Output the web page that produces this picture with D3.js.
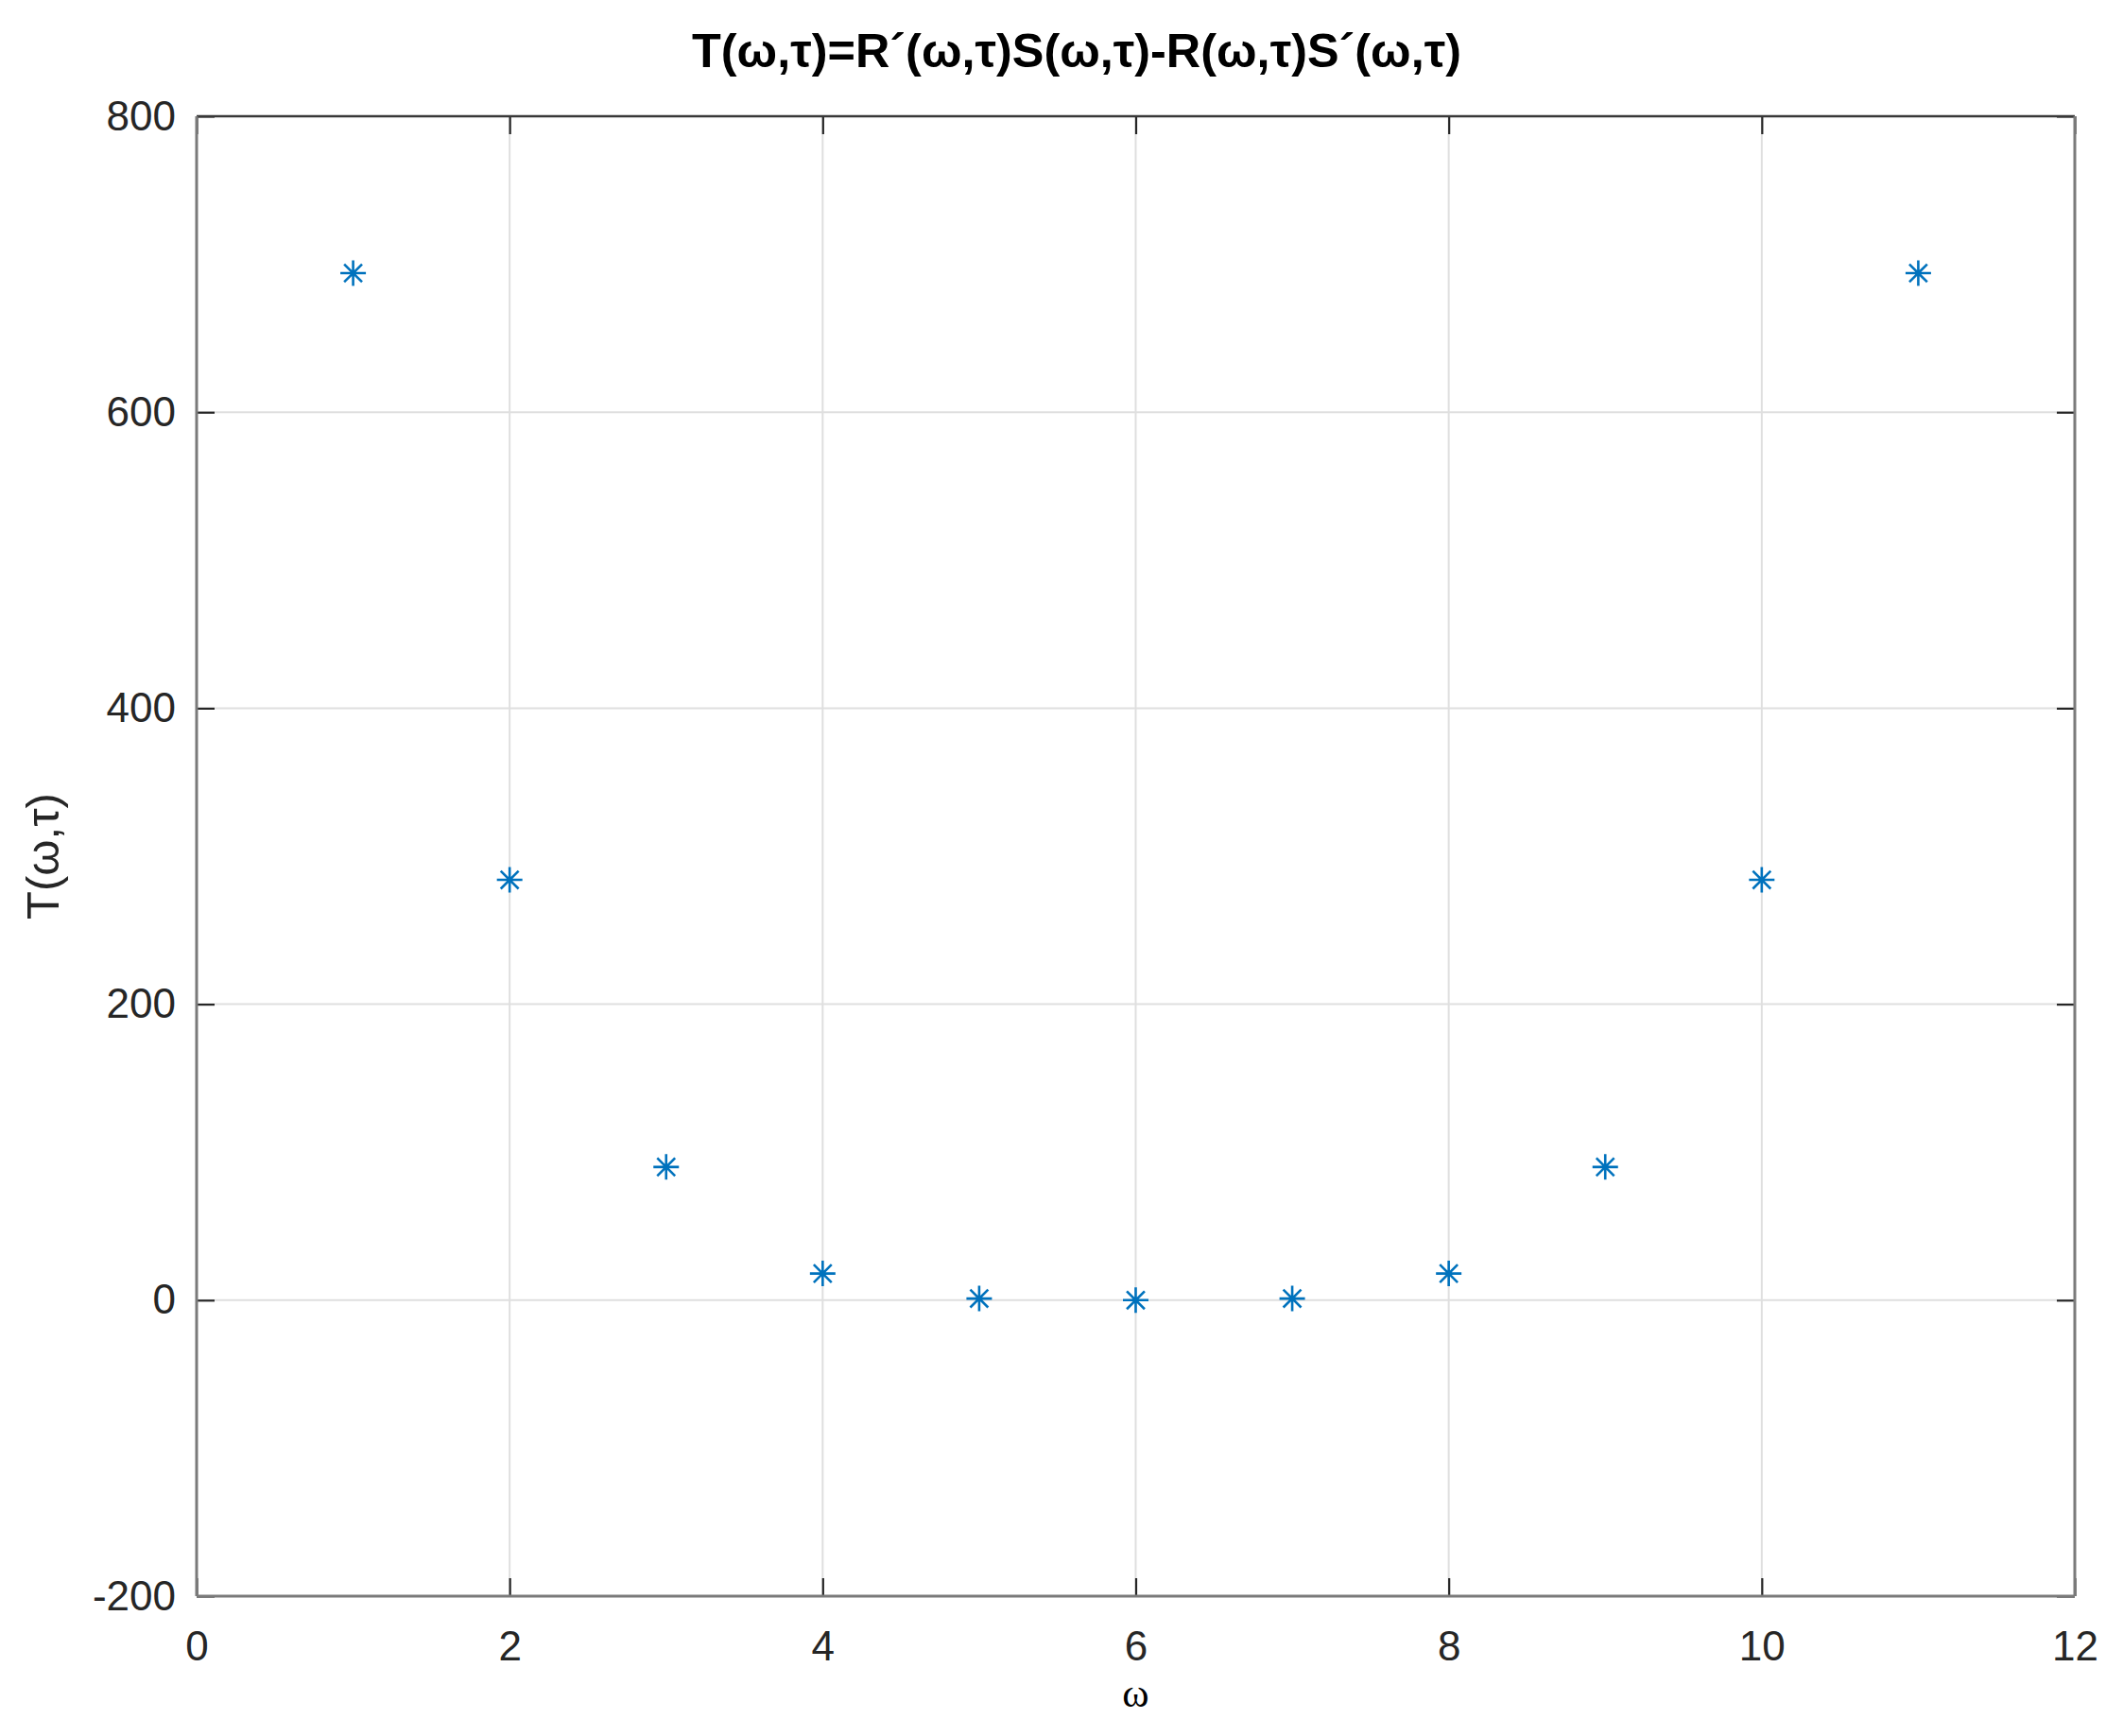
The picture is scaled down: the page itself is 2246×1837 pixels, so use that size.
<!DOCTYPE html>
<html>
<head>
<meta charset="utf-8">
<script src="https://cdn.jsdelivr.net/npm/d3@7"></script>
<style>
  html, body { margin: 0; padding: 0; background: #fff; }
  svg { display: block; }
</style>
</head>
<body>
<svg id="chart" width="2246" height="1837"></svg>
<script>
// data
const omega = [1, 2, 3, 4, 5, 6, 7, 8, 9, 10, 11];
const T = [694, 284, 90, 18, 1.1, 0, 1.1, 18, 90, 284, 694];

const xTicks = [0, 2, 4, 6, 8, 10, 12];
const yTicks = [-200, 0, 200, 400, 600, 800];

const titleText = 'T(ω,τ)=R´(ω,τ)S(ω,τ)-R(ω,τ)S´(ω,τ)';
const xLabelText = 'ω';
const yLabelText = 'T(ω,τ)';

const svg = d3.select('#chart');
const width = 2246, height = 1837;
const margin = { top: 123, right: 51, bottom: 148, left: 208 };
const w = width - margin.left - margin.right;
const h = height - margin.top - margin.bottom;

const font = '"Liberation Sans", Arial, Helvetica, sans-serif';
const textCol = '#262626';

const x = d3.scaleLinear().domain([0, 12]).range([0, w]);
const y = d3.scaleLinear().domain([-200, 800]).range([h, 0]);

const g = svg.append('g')
  .attr('transform', `translate(${margin.left},${margin.top})`);

// grid
g.append('g').selectAll('line')
  .data(xTicks).enter().append('line')
    .attr('x1', d => x(d)).attr('x2', d => x(d))
    .attr('y1', 0).attr('y2', h)
    .attr('stroke', '#dfdfdf').attr('stroke-width', 2);

g.append('g').selectAll('line')
  .data(yTicks).enter().append('line')
    .attr('x1', 0).attr('x2', w)
    .attr('y1', d => y(d)).attr('y2', d => y(d))
    .attr('stroke', '#dfdfdf').attr('stroke-width', 2);

// axes (ticks inside, on all four sides)
const tickLen = 19;
const plain = d => String(d); // hyphen minus, like the original
const styleAxis = sel => {
  sel.select('.domain').remove();
  sel.selectAll('.tick line').attr('stroke', textCol).attr('stroke-width', 2.2);
  sel.selectAll('.tick text')
    .attr('font-family', font)
    .attr('font-size', '44px')
    .attr('fill', textCol);
};

g.append('g')
  .attr('transform', `translate(0,${h})`)
  .call(d3.axisBottom(x).tickValues(xTicks).tickFormat(plain).tickSize(-tickLen).tickPadding(37))
  .call(styleAxis);

g.append('g')
  .call(d3.axisTop(x).tickValues(xTicks).tickSize(-tickLen).tickFormat(''))
  .call(styleAxis);

g.append('g')
  .call(d3.axisLeft(y).tickValues(yTicks).tickFormat(plain).tickSize(-tickLen).tickPadding(22))
  .call(styleAxis);

g.append('g')
  .attr('transform', `translate(${w},0)`)
  .call(d3.axisRight(y).tickValues(yTicks).tickSize(-tickLen).tickFormat(''))
  .call(styleAxis);

// box
g.append('line').attr('x1', 0).attr('x2', w).attr('y1', 0).attr('y2', 0)
  .attr('stroke', '#383838').attr('stroke-width', 2.5);
g.append('line').attr('x1', 0).attr('x2', 0).attr('y1', 0).attr('y2', h)
  .attr('stroke', '#7a7a7a').attr('stroke-width', 3);
g.append('line').attr('x1', 0).attr('x2', w).attr('y1', h).attr('y2', h)
  .attr('stroke', '#7a7a7a').attr('stroke-width', 3);
g.append('line').attr('x1', w).attr('x2', w).attr('y1', 0).attr('y2', h)
  .attr('stroke', '#7a7a7a').attr('stroke-width', 3);

// asterisk markers
const r = 13.5, rd = r * 0.7;
const star = `M${-r},0H${r}M0,${-r}V${r}M${-rd},${-rd}L${rd},${rd}M${-rd},${rd}L${rd},${-rd}`;
g.append('g').selectAll('path')
  .data(omega.map((o, i) => ({ o, t: T[i] })))
  .enter().append('path')
    .attr('transform', d => `translate(${x(d.o)},${y(d.t)})`)
    .attr('d', star)
    .attr('fill', 'none')
    .attr('stroke', '#0072BD')
    .attr('stroke-width', 2.6);

// title
svg.append('text')
  .attr('x', 1139)
  .attr('y', 71)
  .attr('text-anchor', 'middle')
  .attr('font-family', font)
  .attr('font-weight', 'bold')
  .attr('font-size', '50px')
  .attr('fill', '#000')
  .attr('textLength', 814)
  .attr('lengthAdjust', 'spacingAndGlyphs')
  .text(titleText);

// x label
svg.append('text')
  .attr('x', margin.left + w / 2)
  .attr('y', 1806)
  .attr('text-anchor', 'middle')
  .attr('font-family', '"Liberation Serif", "DejaVu Serif", serif')
  .attr('font-size', '43px')
  .attr('fill', '#000')
  .text(xLabelText);

// y label
svg.append('text')
  .attr('transform', `translate(62,${margin.top + h / 2}) rotate(-90)`)
  .attr('text-anchor', 'middle')
  .attr('font-family', font)
  .attr('font-size', '49px')
  .attr('fill', textCol)
  .text(yLabelText);
</script>
</body>
</html>
